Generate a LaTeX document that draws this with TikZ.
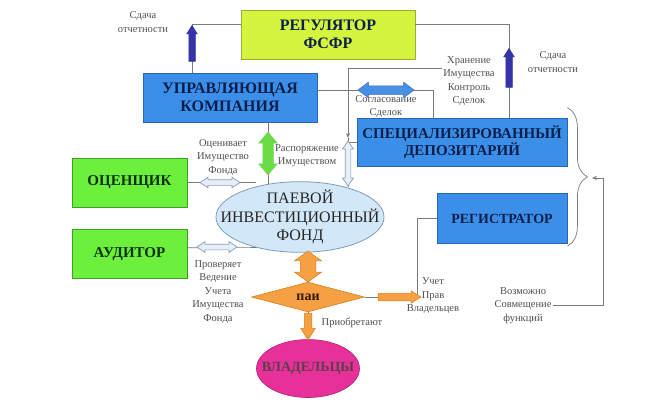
\documentclass[tikz,border=0pt]{standalone}
\usepackage{fontspec}
\setmainfont{Liberation Serif}
\usetikzlibrary{positioning, shapes.geometric, shapes.arrows, decorations.pathreplacing, arrows.meta}

\definecolor{regfill}{HTML}{D4F43E}
\definecolor{regline}{HTML}{98B030}
\definecolor{bluefill}{HTML}{3C8FE8}
\definecolor{blueline}{HTML}{2A64B8}
\definecolor{bluetext}{HTML}{0B1F4D}
\definecolor{greenfill}{HTML}{6CF03C}
\definecolor{greenline}{HTML}{3F9F28}
\definecolor{greentext}{HTML}{0F3010}
\definecolor{fundfill}{HTML}{D2E8F8}
\definecolor{fundline}{HTML}{7E9CB8}
\definecolor{ownerfill}{HTML}{E8309A}
\definecolor{ownerline}{HTML}{B02070}
\definecolor{orangefill}{HTML}{F5A042}
\definecolor{orangeline}{HTML}{D98020}
\definecolor{repblue}{HTML}{3434A8}
\definecolor{agreeblue}{HTML}{4A90E2}
\definecolor{agreeline}{HTML}{3070C0}
\definecolor{managegreen}{HTML}{6ADC45}
\definecolor{manageline}{HTML}{8ACF6A}
\definecolor{hollowfill}{HTML}{E6EEF7}
\definecolor{hollowline}{HTML}{8A9FB5}
\definecolor{linegray}{HTML}{7A7A7A}
\definecolor{notegray}{HTML}{505050}

\tikzset{box node/.style={rectangle,draw,line width=0.8pt,align=center,inner sep=0pt,minimum height=49pt,font=\bfseries\fontsize{16}{17.5}\selectfont}}
\tikzset{reg node/.style={box node,fill=regfill,draw=regline,text=bluetext,minimum width=174pt}}
\tikzset{blue node/.style={box node,fill=bluefill,draw=blueline,text=bluetext}}
\tikzset{green node/.style={box node,fill=greenfill,draw=greenline,text=greentext,minimum width=115pt,font=\bfseries\fontsize{15}{17}\selectfont}}
\tikzset{fund node/.style={ellipse,draw=fundline,fill=fundfill,line width=0.8pt,align=center,inner xsep=-20pt,inner ysep=-2pt,minimum width=164pt,minimum height=70pt,text=black!85,font=\fontsize{16}{18.5}\selectfont}}
\tikzset{share node/.style={diamond,draw=orangeline,fill=orangefill,line width=0.6pt,inner sep=0pt,minimum width=113pt,minimum height=27pt,text=black!80!orange,font=\bfseries\fontsize{14}{16}\selectfont}}
\tikzset{owner node/.style={ellipse,draw=ownerline,fill=ownerfill,line width=0.6pt,inner xsep=-14pt,inner ysep=0pt,minimum width=103pt,minimum height=58pt,text=black!75!magenta,font=\bfseries\fontsize{14}{16}\selectfont}}
\tikzset{note node/.style={align=center,inner sep=1pt,text=notegray,font=\fontsize{10.5}{13.5}\selectfont}}
\tikzset{link/.style={draw=linegray,line width=0.7pt}}
\tikzset{fat single/.style={single arrow,inner xsep=0pt,line width=0.5pt,single arrow tip angle=64}}
\tikzset{fat double/.style={double arrow,inner xsep=0pt,line width=0.5pt,double arrow tip angle=76}}
\tikzset{hollow double/.style={fat double,fill=hollowfill,draw=hollowline,line width=0.7pt,inner ysep=2.5pt,double arrow head extend=2.5pt,double arrow tip angle=68}}

\begin{document}
\begin{tikzpicture}[x=1pt,y=-1pt]
\path[use as bounding box,fill=white] (0,0) rectangle (663,404);

% notes
\node[note node] (sdl) at (143,22) {Сдача\\отчетности};
\node[note node] (sdr) at (553,62) {Сдача\\отчетности};
\node[note node] (hran) at (469,81) {Хранение\\Имущества\\Контроль\\Сделок};
\node[note node] (sogl) at (386,106.5) {Согласование\\Сделок};
\node[note node] (rasp) at (307,155.5) {Распоряжение\\Имуществом};
\node[note node] (ocn) at (223,157.5) {Оценивает\\Имущество\\Фонда};
\node[note node] (prov) at (218,292) {Проверяет\\Ведение\\Учета\\Имущества\\Фонда};
\node[note node] (prio) at (352,323) {Приобретают};
\node[note node] (uch) at (433,296) {Учет\\Прав\\Владельцев};
\node[note node] (vozm) at (523,305.5) {Возможно\\Совмещение\\функций};

% boxes
\node[reg node] (reg) at (328,34.5) {РЕГУЛЯТОР\\ФСФР};
\node[blue node, minimum width=174pt] (uk) at (230,97.5) {УПРАВЛЯЮЩАЯ\\КОМПАНИЯ};
\node[blue node, minimum width=210pt, minimum height=48pt, font=\bfseries\fontsize{15}{17.5}\selectfont] (dep) at (462,142) {СПЕЦИАЛИЗИРОВАННЫЙ\\ДЕПОЗИТАРИЙ};
\node[blue node, minimum width=130pt, minimum height=50pt, font=\bfseries\fontsize{14}{16}\selectfont] (regs) [below=27pt of dep.south east, anchor=north east] {РЕГИСТРАТОР};
\node[green node] (ocen) at (129.5,182.5) {ОЦЕНЩИК};
\node[green node] (audit) [below=22pt of ocen] {АУДИТОР};
\node[fund node] (pif) at (300,217) {ПАЕВОЙ\\ИНВЕСТИЦИОННЫЙ\\ФОНД};
\node[share node] (pai) at (308,297) {паи};
\node[owner node] (vlad) [below=27pt of pai] {ВЛАДЕЛЬЦЫ};

\coordinate (dtop) at (348,138);
\coordinate (tip) at (592,178);

% connectors
\draw[link] ([xshift=-38pt]uk.north) |- ([yshift=10.5pt]reg.west);
\draw[link] ([yshift=10.5pt]reg.east) -| ([xshift=47pt]dep.north);
\draw[link] ([yshift=7.5pt]uk.east) -| ([xshift=-29pt]dep.north);
\draw[link, shorten >=-3pt] ([xshift=38pt]uk.south) -- ([xshift=38pt]uk.south |- pif.north);
\draw[link, -{Stealth[length=5pt,width=4pt]}] ([yshift=13pt]hran.west) -| (dtop);
\draw[link, shorten >=-6pt] (dtop) -- (dtop |- pif.north);
\draw[link] (dep.west -| dtop) -- (dep.west);
\draw[link] (ocen.east) -- (ocen.east -| pif.145);
\draw[link] ([yshift=6.5pt]audit.east) -- (pif.215);
\draw[link] (pif.south -| pai.north) -- (pai.north);
\draw[link] (pai.south) -- (vlad.north);
\draw[link] (pai.east) -| ([xshift=-19pt]regs.west) -- (regs.west);
\draw[link, -{Stealth[length=5pt,width=4pt]}] (vozm.east) -| ([xshift=11pt]tip) -- (tip);
\draw[link, decorate, decoration={brace,amplitude=20pt}] ([yshift=10pt]dep.north east) -- ([yshift=-2pt]regs.south east);

% block arrows
\node[fat single, fill=repblue, draw=repblue, rotate=90, minimum height=36pt, inner ysep=3pt, single arrow head extend=2pt] (repl) at (192,46) {};
\node[fat single, fill=repblue, draw=repblue, rotate=90, minimum height=39pt, inner ysep=3pt, single arrow head extend=2pt] (repr) at (509,70.5) {};
\node[fat double, fill=agreeblue, draw=agreeline, minimum height=56pt, inner ysep=4pt, double arrow head extend=3.5pt, double arrow tip angle=74] (agree) at (386,90) {};
\node[fat double, fill=managegreen, draw=manageline, rotate=90, minimum height=43pt, inner ysep=5pt, double arrow head extend=4pt, double arrow tip angle=80] (manage) at (268,153.5) {};
\node[hollow double, rotate=90, minimum height=45pt] (dispose) at (348,163.5) {};
\node[hollow double, minimum height=40pt] (evalarr) at (220,182.5) {};
\node[hollow double, minimum height=40pt] (checkarr) at (217,247) {};
\node[fat double, fill=orangefill, draw=orangeline, rotate=90, minimum height=31pt, inner ysep=7.5pt, double arrow head extend=6pt, double arrow tip angle=108] (buyarr) at (308,266.5) {};
\node[fat single, fill=orangefill, draw=orangeline, rotate=-90, minimum height=27pt, inner ysep=3.5pt, single arrow head extend=3.5pt] (ownarr) at (308,323.5) {};
\node[fat single, fill=orangefill, draw=orangeline, minimum height=43pt, inner ysep=3.5pt, single arrow head extend=2.5pt] (rightarr) at (396.5,297) {};
\end{tikzpicture}
\end{document}
